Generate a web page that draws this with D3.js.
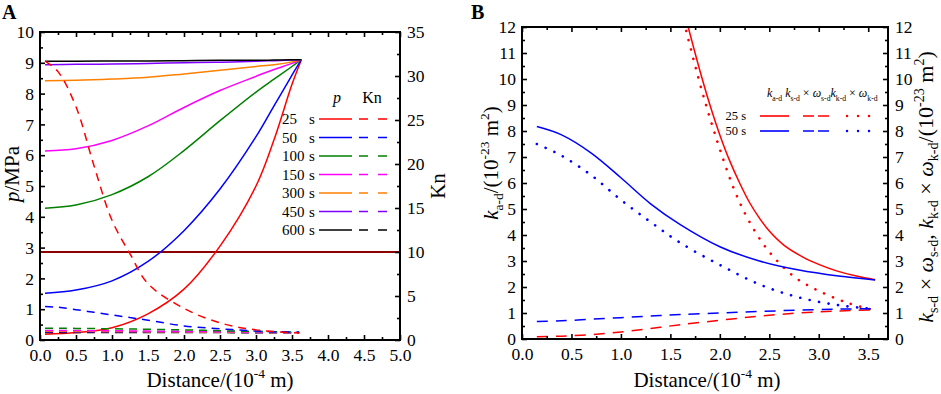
<!DOCTYPE html>
<html>
<head>
<meta charset="utf-8">
<script src="https://cdn.jsdelivr.net/npm/d3@7"></script>
<style>
  html, body { margin: 0; padding: 0; background: #fff; }
  text { font-family: "Liberation Serif", "Times New Roman", serif; white-space: pre; }
</style>
</head>
<body>
<div id="chart"></div>
<script>
// ---- data ----
// panel A: pressure p (MPa) along distance, one series per time
const timesA = ["25", "50", "100", "150", "300", "450", "600"];
const pDist = [0.07, 0.5, 1.0, 1.5, 2.0, 2.5, 3.0, 3.25, 3.5, 3.63];
const p25 = [0.19, 0.24, 0.4, 0.85, 1.65, 3.05, 5.0, 6.5, 8.3, 9.1];
const p50 = [1.52, 1.62, 1.92, 2.55, 3.55, 4.9, 6.6, 7.6, 8.6, 9.1];
const p100 = [4.28, 4.38, 4.72, 5.3, 6.15, 7.12, 8.05, 8.47, 8.88, 9.1];
const p150 = [6.14, 6.21, 6.48, 6.95, 7.55, 8.1, 8.56, 8.78, 8.98, 9.1];
const p300 = [8.42, 8.43, 8.47, 8.53, 8.64, 8.76, 8.88, 8.94, 9.03, 9.1];
const p450 = [8.94, 8.95, 8.96, 8.98, 9.0, 9.02, 9.05, 9.07, 9.09, 9.1];
const p600 = [9.05, 9.05, 9.06, 9.06, 9.07, 9.08, 9.08, 9.09, 9.1, 9.1];
// panel A: Knudsen number along distance
const knDist = [0.07, 0.25, 0.5, 0.75, 1.0, 1.25, 1.5, 2.0, 2.5, 3.0, 3.6];
const kn25 = [31.7, 30.5, 26.5, 19.8, 13.6, 9.8, 6.4, 3.6, 1.95, 1.15, 0.8];
const kn50 = [3.8, 3.72, 3.45, 3.15, 2.85, 2.55, 2.25, 1.6, 1.28, 1.02, 0.88];
const kn100 = [1.33, 1.33, 1.32, 1.3, 1.28, 1.25, 1.22, 1.15, 1.05, 0.97, 0.9];
const kn150 = [1.08, 1.08, 1.07, 1.06, 1.05, 1.03, 1.01, 0.98, 0.94, 0.9, 0.85];
const kn300 = [0.99, 0.99, 0.98, 0.98, 0.97, 0.96, 0.95, 0.93, 0.9, 0.87, 0.84];
const kn450 = [0.95, 0.95, 0.95, 0.94, 0.94, 0.93, 0.92, 0.9, 0.88, 0.86, 0.83];
const kn600 = [0.86, 0.86, 0.86, 0.86, 0.85, 0.85, 0.85, 0.84, 0.84, 0.83, 0.82];
const knCritical = 10;
// panel B: permeabilities (1e-23 m^2)
const timesB = ["25", "50"];
const bDist = [0.15, 0.4, 0.7, 1.0, 1.3, 1.6, 2.0, 2.4, 2.8, 3.2, 3.57];
const ka50 = [8.17, 7.85, 7.15, 6.2, 5.2, 4.4, 3.55, 3.0, 2.65, 2.42, 2.27];
const kk50 = [7.5, 7.05, 6.3, 5.35, 4.5, 3.7, 2.85, 2.1, 1.6, 1.3, 1.15];
const ks50 = [0.67, 0.7, 0.76, 0.82, 0.88, 0.94, 1.0, 1.06, 1.11, 1.15, 1.17];
const ks25 = [0.09, 0.11, 0.17, 0.27, 0.4, 0.55, 0.72, 0.88, 1.0, 1.08, 1.12];
const ka25Dist = [1.68, 1.8, 1.9, 2.0, 2.1, 2.2, 2.3, 2.4, 2.5, 2.65, 2.84, 3.0, 3.18, 3.38, 3.57];
const ka25 = [12.0, 10.3, 9.0, 7.85, 6.85, 6.0, 5.25, 4.65, 4.15, 3.6, 3.15, 2.87, 2.62, 2.42, 2.28];
const kk25Dist = [1.66, 1.8, 1.9, 2.0, 2.15, 2.3, 2.5, 2.75, 3.0, 3.3, 3.57];
const kk25 = [11.85, 9.8, 8.5, 7.3, 5.7, 4.5, 3.35, 2.4, 1.85, 1.38, 1.1];

const colorsA = ["#ff0000", "#0000ff", "#008000", "#ff00ff", "#ff8000", "#8000ff", "#000000"];
const colorsB = ["#ff0000", "#0000ff"];

// ---- setup ----
const W = 941, H = 394;
const svg = d3.select("#chart").append("svg").attr("width", W).attr("height", H);

// text with italic / sub / sup pieces
function rich(sel, parts, size, shiftSub) {
  const sub = shiftSub || 0.3;
  let cur = 0;
  parts.forEach(([t, kind]) => {
    kind = kind || "";
    const isSub = kind === "sub", isSup = kind === "sup";
    const off = isSub ? sub * size : isSup ? -0.42 * size : 0;
    sel.append("tspan")
      .attr("dy", off - cur)
      .attr("font-size", isSub || isSup ? size * 0.64 : size)
      .attr("font-style", kind === "i" ? "italic" : null)
      .text(t);
    cur = off;
  });
}

function frameAxes(g, x, yL, yR, box, opt) {
  const fs = 17.5;
  g.append("g").attr("transform", `translate(0,${box.b})`)
    .call(d3.axisBottom(x).tickValues(opt.xMajor).tickSize(-5).tickPadding(9).tickFormat(d3.format(".1f")));
  g.append("g").attr("transform", `translate(0,${box.b})`)
    .call(d3.axisBottom(x).tickValues(opt.xMinor).tickSize(-3).tickFormat(""));
  g.append("g").attr("transform", `translate(0,${box.t})`)
    .call(d3.axisTop(x).tickValues(opt.xMajor).tickSize(-5).tickFormat(""));
  g.append("g").attr("transform", `translate(0,${box.t})`)
    .call(d3.axisTop(x).tickValues(opt.xMinor).tickSize(-3).tickFormat(""));
  g.append("g").attr("transform", `translate(${box.l},0)`)
    .call(d3.axisLeft(yL).tickValues(opt.yMajor).tickSize(-5).tickPadding(6).tickFormat(d3.format("d")));
  g.append("g").attr("transform", `translate(${box.l},0)`)
    .call(d3.axisLeft(yL).tickValues(opt.yMinor).tickSize(-3).tickFormat(""));
  g.append("g").attr("transform", `translate(${box.r},0)`)
    .call(d3.axisRight(yR).tickValues(opt.rMajor).tickSize(-5).tickPadding(7).tickFormat(d3.format("d")));
  g.append("g").attr("transform", `translate(${box.r},0)`)
    .call(d3.axisRight(yR).tickValues(opt.rMinor).tickSize(-3).tickFormat(""));
  g.selectAll(".domain").remove();
  g.selectAll(".tick line").attr("stroke", "#000").attr("stroke-width", 1.6);
  g.selectAll(".tick text").attr("font-size", fs).attr("font-family", "Liberation Serif").attr("fill", "#000");
  g.append("rect").attr("x", box.l).attr("y", box.t)
    .attr("width", box.r - box.l).attr("height", box.b - box.t)
    .attr("fill", "none").attr("stroke", "#000").attr("stroke-width", 2);
}

function range(a, b, s) { return d3.range(a, b + 1e-9, s); }
const line = (x, y) => d3.line().x(d => x(d[0])).y(d => y(d[1])).curve(d3.curveCatmullRom.alpha(0.5));
const zip = (xs, ys) => xs.map((v, i) => [v, ys[i]]);

// ===== Panel A =====
const boxA = { l: 40, r: 400, t: 32, b: 340 };
const xA = d3.scaleLinear().domain([0, 5]).range([boxA.l, boxA.r]);
const yA = d3.scaleLinear().domain([0, 10]).range([boxA.b, boxA.t]);
const yKn = d3.scaleLinear().domain([0, 35]).range([boxA.b, boxA.t]);
const gA = svg.append("g");
svg.append("clipPath").attr("id", "clipA").append("rect")
  .attr("x", boxA.l).attr("y", boxA.t).attr("width", boxA.r - boxA.l).attr("height", boxA.b - boxA.t);
const plotA = gA.append("g").attr("clip-path", "url(#clipA)");

const pSeries = [p25, p50, p100, p150, p300, p450, p600];
const knSeries = [kn25, kn50, kn100, kn150, kn300, kn450, kn600];

plotA.append("line")
  .attr("x1", xA(0)).attr("x2", xA(5)).attr("y1", yKn(knCritical)).attr("y2", yKn(knCritical))
  .attr("stroke", "#8b0000").attr("stroke-width", 2);

pSeries.forEach((s, i) => {
  plotA.append("path").datum(zip(pDist, s)).attr("d", line(xA, yA))
    .attr("fill", "none").attr("stroke", colorsA[i]).attr("stroke-width", 1.5);
});
knSeries.slice().reverse().forEach((s, j) => {
  const i = knSeries.length - 1 - j;
  plotA.append("path").datum(zip(knDist, s)).attr("d", line(xA, yKn))
    .attr("fill", "none").attr("stroke", colorsA[i]).attr("stroke-width", 1.5)
    .attr("stroke-dasharray", "8,6");
});

frameAxes(gA, xA, yA, yKn, boxA, {
  xMajor: range(0, 5, 0.5), xMinor: range(0.25, 4.75, 0.5),
  yMajor: range(0, 10, 1), yMinor: range(0.5, 9.5, 1),
  rMajor: range(0, 35, 5), rMinor: range(2.5, 32.5, 5)
});

// legend A
const legA = gA.append("g");
legA.append("text").attr("x", 337).attr("y", 103).attr("text-anchor", "middle")
  .attr("font-size", 16).attr("font-style", "italic").text("p");
legA.append("text").attr("x", 372).attr("y", 103).attr("text-anchor", "middle")
  .attr("font-size", 16).text("Kn");
timesA.forEach((t, i) => {
  const y = 119 + i * 18.5;
  legA.append("text").attr("x", 282).attr("y", y + 5).attr("font-size", 15).text(t);
  legA.append("text").attr("x", 309).attr("y", y + 5).attr("font-size", 15).text("s");
  legA.append("line").attr("x1", 319).attr("x2", 352).attr("y1", y).attr("y2", y)
    .attr("stroke", colorsA[i]).attr("stroke-width", 1.6);
  legA.append("line").attr("x1", 359).attr("x2", 387).attr("y1", y).attr("y2", y)
    .attr("stroke", colorsA[i]).attr("stroke-width", 1.6).attr("stroke-dasharray", "9,10");
});

// titles A
rich(gA.append("text").attr("x", 220).attr("y", 387).attr("text-anchor", "middle"),
  [["Distance/(10"], ["-4", "sup"], [" m)"]], 21);
rich(gA.append("text").attr("transform", "translate(19,174) rotate(-90)").attr("text-anchor", "middle"),
  [["p", "i"], ["/MPa"]], 21);
gA.append("text").attr("transform", "translate(445,186) rotate(-90)").attr("text-anchor", "middle")
  .attr("font-size", 21).text("Kn");
svg.append("text").attr("x", 2).attr("y", 19).attr("font-family", "Liberation Sans")
  .attr("font-weight", "bold").attr("font-size", 20).text("A");

// ===== Panel B =====
const boxB = { l: 522, r: 888, t: 27, b: 339 };
const xB = d3.scaleLinear().domain([0, 3.7]).range([boxB.l, boxB.r]);
const yB = d3.scaleLinear().domain([0, 12]).range([boxB.b, boxB.t]);
const gB = svg.append("g");
svg.append("clipPath").attr("id", "clipB").append("rect")
  .attr("x", boxB.l).attr("y", boxB.t).attr("width", boxB.r - boxB.l).attr("height", boxB.b - boxB.t);
const plotB = gB.append("g").attr("clip-path", "url(#clipB)");

const styleB = { solid: null, dash: "11,8", dot: "0.1,9.5" };
const bSeries = [
  [zip(ka25Dist, ka25), 0, "solid"], [zip(bDist, ks25), 0, "dash"], [zip(kk25Dist, kk25), 0, "dot"],
  [zip(bDist, ka50), 1, "solid"], [zip(bDist, ks50), 1, "dash"], [zip(bDist, kk50), 1, "dot"]
];
bSeries.forEach(([data, c, st]) => {
  plotB.append("path").datum(data).attr("d", line(xB, yB))
    .attr("fill", "none").attr("stroke", colorsB[c])
    .attr("stroke-width", st === "dot" ? 2.6 : 1.5)
    .attr("stroke-linecap", st === "dot" ? "round" : "butt")
    .attr("stroke-dasharray", styleB[st]);
});

frameAxes(gB, xB, yB, yB, boxB, {
  xMajor: range(0, 3.5, 0.5), xMinor: range(0.25, 3.75, 0.5).filter(v => v <= 3.7),
  yMajor: range(0, 12, 1), yMinor: range(0.5, 11.5, 1),
  rMajor: range(0, 12, 1), rMinor: range(0.5, 11.5, 1)
});

// legend B
const legB = gB.append("g");
rich(legB.append("text").attr("x", 767).attr("y", 97),
  [["k", "i"], ["a-d", "sub"], [" "], ["k", "i"], ["s-d", "sub"], [" × "], ["ω", "i"], ["s-d", "sub"],
   ["k", "i"], ["k-d", "sub"], [" × "], ["ω", "i"], ["k-d", "sub"]], 12);
timesB.forEach((t, i) => {
  const y = 116 + i * 15;
  legB.append("text").attr("x", 746).attr("y", y + 4).attr("text-anchor", "end")
    .attr("font-size", 12.5).text(t + " s");
  legB.append("line").attr("x1", 760).attr("x2", 789).attr("y1", y).attr("y2", y)
    .attr("stroke", colorsB[i]).attr("stroke-width", 1.6);
  legB.append("line").attr("x1", 803).attr("x2", 829).attr("y1", y).attr("y2", y)
    .attr("stroke", colorsB[i]).attr("stroke-width", 1.6).attr("stroke-dasharray", "11,4");
  legB.append("line").attr("x1", 847).attr("x2", 870).attr("y1", y).attr("y2", y)
    .attr("stroke", colorsB[i]).attr("stroke-width", 2.4).attr("stroke-linecap", "round")
    .attr("stroke-dasharray", "0.1,10.9");
});

// titles B
rich(gB.append("text").attr("x", 707).attr("y", 387).attr("text-anchor", "middle"),
  [["Distance/(10"], ["-4", "sup"], [" m)"]], 21);
rich(gB.append("text").attr("transform", "translate(498,163) rotate(-90)").attr("text-anchor", "middle"),
  [["k", "i"], ["a-d", "sub"], ["/(10"], ["-23", "sup"], [" m"], ["2", "sup"], [")"]], 21, 0.25);
rich(gB.append("text").attr("transform", "translate(933,187) rotate(-90)").attr("text-anchor", "middle"),
  [["k", "i"], ["s-d", "sub"], [" × "], ["ω", "i"], ["s-d", "sub"], [", "], ["k", "i"], ["k-d", "sub"],
   [" × "], ["ω", "i"], ["k-d", "sub"], ["/(10"], ["-23", "sup"], [" m"], ["2", "sup"], [")"]], 22, 0.22);
svg.append("text").attr("x", 471).attr("y", 19).attr("font-family", "Liberation Sans")
  .attr("font-weight", "bold").attr("font-size", 20).text("B");
</script>
</body>
</html>
